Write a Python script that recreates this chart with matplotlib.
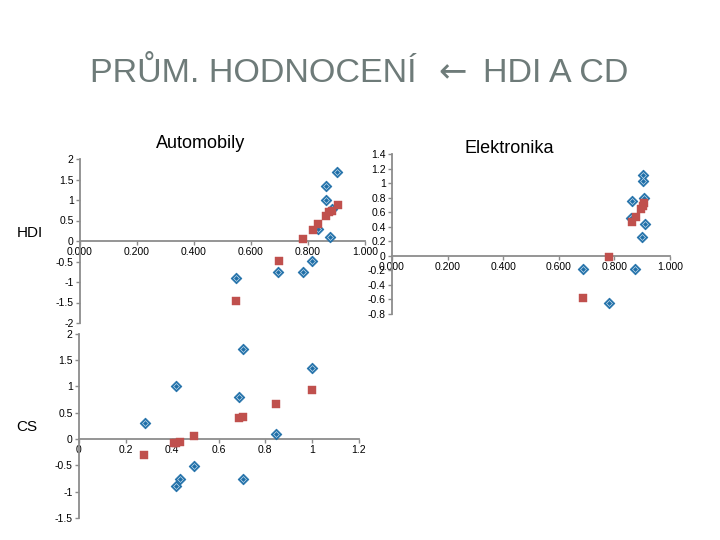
"""Average rating vs HDI and CS: Excel-style scatter panels."""

import numpy as np
import matplotlib
matplotlib.use("Agg")
from matplotlib import pyplot as plt
from matplotlib.ticker import FuncFormatter, MultipleLocator

plt.rcParams["font.family"] = ["Liberation Sans", "DejaVu Sans"]

# Data
# Automobily (x = HDI)
auto_blue_x = [0.901, 0.863, 0.862, 0.884, 0.835, 0.876, 0.815, 0.696, 0.781, 0.547]
auto_blue_y = [1.69, 1.35, 0.99, 0.78, 0.29, 0.09, -0.48, -0.745, -0.75, -0.90]
auto_red_x = [0.904, 0.884, 0.875, 0.862, 0.834, 0.816, 0.782, 0.698, 0.546]
auto_red_y = [0.87, 0.74, 0.70, 0.60, 0.42, 0.28, 0.06, -0.48, -1.46]

# Elektronika (x = HDI)
elek_blue_x = [0.904, 0.904, 0.908, 0.864, 0.861, 0.911, 0.898, 0.686, 0.875, 0.781]
elek_blue_y = [1.115, 1.03, 0.80, 0.76, 0.525, 0.435, 0.26, -0.18, -0.18, -0.654]
elek_red_x = [0.908, 0.903, 0.897, 0.878, 0.863, 0.781, 0.686]
elek_red_y = [0.72, 0.69, 0.65, 0.54, 0.46, -0.02, -0.575]

# Automobily (x = CS)
cs_blue_x = [0.703, 0.999, 0.416, 0.686, 0.282, 0.844, 0.494, 0.433, 0.706, 0.416]
cs_blue_y = [1.71, 1.34, 1.01, 0.80, 0.30, 0.095, -0.505, -0.76, -0.765, -0.90]
cs_red_x = [0.999, 0.844, 0.705, 0.689, 0.494, 0.433, 0.416, 0.41, 0.28]
cs_red_y = [0.93, 0.665, 0.42, 0.40, 0.06, -0.06, -0.075, -0.07, -0.30]

# Style constants
BLUE = "#1f6fa8"
RED = "#c0504d"
AXIS_GREY = "#8c8c8c"
TITLE_GREY = "#6e7b79"
TICK_SIZE = 7.5
PANEL_TITLE_SIZE = 13
TITLE_SIZE = 24.5


def g_fmt(v, _pos):
    return f"{np.round(v, 4):g}"


def fixed3_fmt(v, _pos):
    return f"{v:.3f}"


def excel_scatter(ax, bx, by, rx, ry, xlim, ylim, xstep, ystep, xfmt):
    # Blue diamonds with a light inner ring, red squares on top
    ax.scatter(bx, by, marker="D", s=30, facecolor=BLUE, edgecolor=BLUE,
               linewidth=0.5, zorder=3, clip_on=False)
    ax.scatter(bx, by, marker="D", s=9, facecolor=BLUE, edgecolor="#d4e6f3",
               linewidth=0.45, zorder=4, clip_on=False)
    ax.scatter(rx, ry, marker="s", s=28, facecolor=RED, edgecolor=RED,
               linewidth=0.3, zorder=5, clip_on=False)

    ax.set_xlim(*xlim)
    ax.set_ylim(*ylim)
    ax.xaxis.set_major_locator(MultipleLocator(xstep))
    ax.yaxis.set_major_locator(MultipleLocator(ystep))
    ax.xaxis.set_major_formatter(FuncFormatter(xfmt))
    ax.yaxis.set_major_formatter(FuncFormatter(g_fmt))

    for side in ("top", "right"):
        ax.spines[side].set_visible(False)
    ax.spines["bottom"].set_position(("data", 0))
    ax.spines["left"].set_position(("data", 0))
    for side in ("bottom", "left"):
        ax.spines[side].set_color(AXIS_GREY)
        ax.spines[side].set_linewidth(1.3)

    ax.tick_params(direction="out", length=3, width=1, color=AXIS_GREY,
                   labelsize=TICK_SIZE, pad=1.5)
    ax.patch.set_alpha(0)


fig = plt.figure(figsize=(7.2, 5.4), dpi=100)

ax_auto = fig.add_axes([80 / 720, 1 - 323 / 540, 285 / 720, 164 / 540])
excel_scatter(ax_auto, auto_blue_x, auto_blue_y, auto_red_x, auto_red_y,
              (0, 1), (-2, 2), 0.2, 0.5, fixed3_fmt)

ax_elek = fig.add_axes([392 / 720, 1 - 314 / 540, 278 / 720, 160 / 540])
excel_scatter(ax_elek, elek_blue_x, elek_blue_y, elek_red_x, elek_red_y,
              (0, 1), (-0.8, 1.4), 0.2, 0.2, fixed3_fmt)

ax_cs = fig.add_axes([79 / 720, 1 - 518 / 540, 279.5 / 720, 184.5 / 540])
excel_scatter(ax_cs, cs_blue_x, cs_blue_y, cs_red_x, cs_red_y,
              (0, 1.2), (-1.5, 2), 0.2, 0.5, g_fmt)

# Slide title in three pieces so the arrow can use a wider glyph
title_y = 1 - 73 / 540
fig.text(90 / 720, title_y, "PRŮM. HODNOCENÍ", ha="left", va="center",
         fontsize=TITLE_SIZE, color=TITLE_GREY)
fig.text(453 / 720, title_y, "\u2190", ha="center", va="center",
         fontsize=TITLE_SIZE, color=TITLE_GREY, family=["DejaVu Sans"])
fig.text(628 / 720, title_y, "HDI A CD", ha="right", va="center",
         fontsize=TITLE_SIZE, color=TITLE_GREY)

fig.text(201 / 720, 1 - 143 / 540, "Automobily", ha="center", va="center",
         fontsize=PANEL_TITLE_SIZE)
fig.text(509 / 720, 1 - 148 / 540, "Elektronika", ha="center", va="center",
         fontsize=PANEL_TITLE_SIZE)
fig.text(30 / 720, 1 - 233 / 540, "HDI", ha="center", va="center", fontsize=11)
fig.text(27 / 720, 1 - 427 / 540, "CS", ha="center", va="center", fontsize=11)

fig.savefig("out.png", dpi=100)
